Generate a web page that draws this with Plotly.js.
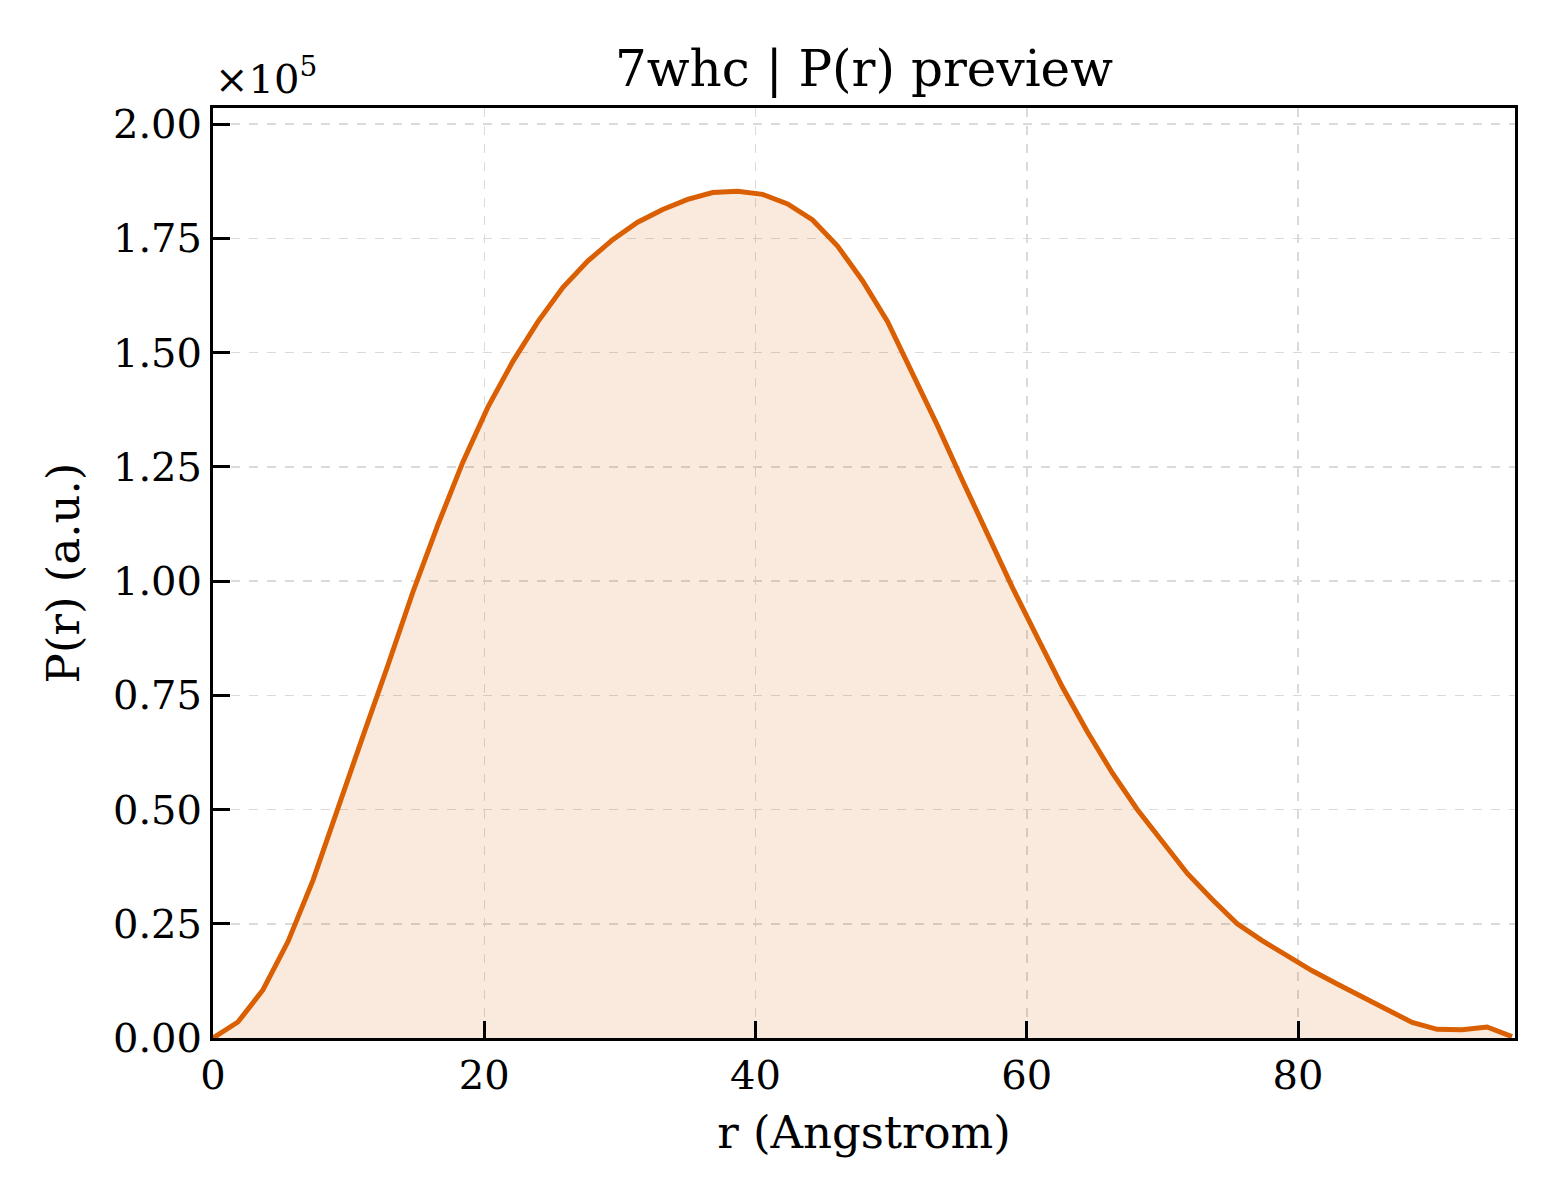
<!DOCTYPE html>
<html>
<head>
<meta charset="utf-8">
<title>7whc | P(r) preview</title>
<script src="https://cdn.plot.ly/plotly-3.0.1.min.js"></script>
<style>
  html, body { margin: 0; padding: 0; background: #ffffff; }
  #chart { width: 1560px; height: 1200px; }
</style>
</head>
<body>
<div id="chart"></div>
<script>
  // Pair-distance distribution.
  // r in Angstrom, P(r) in arbitrary units.
  const R_ANGSTROM = [
    0.00, 1.84, 3.68, 5.53, 7.37, 9.21, 11.05, 12.89, 14.74, 16.58,
    18.42, 20.26, 22.10, 23.95, 25.79, 27.63, 29.47, 31.31, 33.16, 35.00,
    36.84, 38.68, 40.52, 42.37, 44.21, 46.05, 47.89, 49.73, 51.58, 53.42,
    55.26, 57.10, 58.94, 60.79, 62.63, 64.47, 66.31, 68.15, 70.00, 71.84,
    73.68, 75.52, 77.36, 79.21, 81.05, 82.89, 84.73, 86.57, 88.42, 90.26,
    92.10, 93.94, 95.78
  ];

  const PR_VALUES = [
    0, 3500, 10500, 21100, 34500, 50500, 66000, 81500, 97600, 112300,
    126000, 138000, 148000, 156700, 164200, 170000, 174700, 178500, 181300, 183500,
    185000, 185300, 184600, 182500, 179000, 173300, 165700, 156800, 145500, 134000,
    122000, 110300, 98600, 87600, 76800, 67000, 58000, 50000, 42800, 36000,
    30300, 25000, 21300, 17900, 14700, 11800, 9000, 6100, 3400, 1900,
    1800, 2400, 300
  ];

  const X_TICKS = [0, 20, 40, 60, 80];
  const Y_TICK_LABELS = ["0.00", "0.25", "0.50", "0.75", "1.00", "1.25", "1.50", "1.75", "2.00"];
  const Y_SCALE = 1e5; // tick labels are shown in units of 10^5

  const SERIF = "DejaVu Serif, Liberation Serif, serif";
  const LINE = "#d95f02";
  const FILL = "rgba(217,95,2,0.13)";
  const GRID = "#dadada";

  const trace = {
    x: R_ANGSTROM,
    y: PR_VALUES,
    type: "scatter",
    mode: "lines",
    line: { color: LINE, width: 5 },
    fill: "tozeroy",
    fillcolor: FILL,
    hoverinfo: "x+y",
  };

  const axisCommon = {
    showline: true,
    linecolor: "#000000",
    linewidth: 3,
    mirror: true,
    ticks: "inside",
    ticklen: 17,
    tickwidth: 3,
    tickcolor: "#000000",
    showgrid: true,
    gridcolor: GRID,
    gridwidth: 1.5,
    griddash: "dash",
    zeroline: false,
    tickfont: { family: SERIF, size: 40, color: "#000000" },
  };

  const layout = {
    width: 1560,
    height: 1200,
    paper_bgcolor: "#ffffff",
    plot_bgcolor: "#ffffff",
    margin: { l: 213, r: 45, t: 108, b: 162 },
    showlegend: false,
    font: { family: SERIF, color: "#000000" },
    title: {
      text: "7whc | P(r) preview",
      font: { family: SERIF, size: 50, color: "#000000" },
      x: 0.5,
      xref: "paper",
      xanchor: "center",
      y: 1,
      yref: "paper",
      yanchor: "bottom",
      pad: { b: 22 },
    },
    xaxis: Object.assign({}, axisCommon, {
      range: [0, 96.0],
      tickmode: "array",
      tickvals: X_TICKS,
      ticktext: X_TICKS.map(String),
      title: { text: "r (Angstrom)", font: { family: SERIF, size: 45 }, standoff: 20 },
    }),
    yaxis: Object.assign({}, axisCommon, {
      range: [0, 2.035 * Y_SCALE],
      tickmode: "array",
      tickvals: Y_TICK_LABELS.map((t) => parseFloat(t) * Y_SCALE),
      ticktext: Y_TICK_LABELS,
      title: { text: "P(r) (a.u.)", font: { family: SERIF, size: 45 }, standoff: 20 },
    }),
    annotations: [
      {
        text: "×10<sup>5</sup>",
        xref: "paper",
        yref: "paper",
        x: 0,
        y: 1,
        xanchor: "left",
        yanchor: "bottom",
        yshift: 4,
        showarrow: false,
        font: { family: SERIF, size: 40, color: "#000000" },
      },
    ],
  };

  Plotly.newPlot("chart", [trace], layout, { displayModeBar: false, staticPlot: true });
</script>
</body>
</html>
